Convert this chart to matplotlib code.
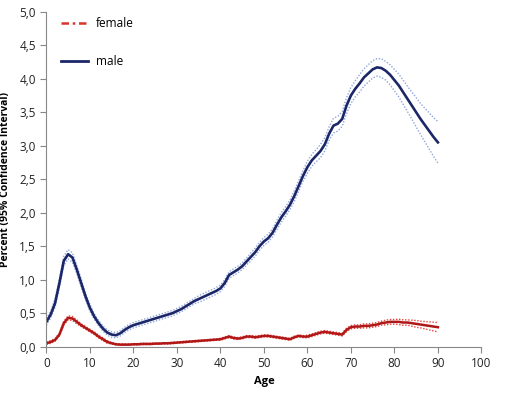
import numpy as np
import matplotlib
matplotlib.use('Agg')
import matplotlib.pyplot as plt
from matplotlib.ticker import FuncFormatter

# 年龄 0..90
ages = list(range(0, 91))

male = [0.37, 0.48, 0.65, 0.95, 1.28, 1.38, 1.33, 1.15, 0.95, 0.75,
        0.58, 0.45, 0.35, 0.27, 0.21, 0.18, 0.17, 0.20, 0.25, 0.29,
        0.32, 0.34, 0.36, 0.38, 0.40, 0.42, 0.44, 0.46, 0.48, 0.50,
        0.53, 0.56, 0.60, 0.64, 0.68, 0.71, 0.74, 0.77, 0.80, 0.83,
        0.87, 0.95, 1.07, 1.11, 1.15, 1.20, 1.27, 1.34, 1.41, 1.50,
        1.57, 1.62, 1.70, 1.82, 1.93, 2.02, 2.12, 2.25, 2.40, 2.55,
        2.68, 2.78, 2.85, 2.92, 3.02, 3.18, 3.30, 3.33, 3.40, 3.60,
        3.75, 3.85, 3.93, 4.02, 4.08, 4.14, 4.17, 4.16, 4.12, 4.06,
        3.98, 3.90, 3.80, 3.70, 3.60, 3.50, 3.40, 3.31, 3.22, 3.13,
        3.05]

male_ci = [0.05, 0.05, 0.06, 0.06, 0.07, 0.07, 0.07, 0.06, 0.06, 0.05,
           0.05, 0.04, 0.04, 0.04, 0.04, 0.04, 0.04, 0.04, 0.04, 0.04,
           0.04, 0.04, 0.04, 0.04, 0.04, 0.04, 0.04, 0.04, 0.04, 0.04,
           0.04, 0.04, 0.04, 0.04, 0.04, 0.05, 0.05, 0.05, 0.05, 0.05,
           0.05, 0.05, 0.05, 0.05, 0.05, 0.05, 0.05, 0.06, 0.06, 0.06,
           0.06, 0.06, 0.06, 0.07, 0.07, 0.07, 0.07, 0.08, 0.08, 0.08,
           0.09, 0.09, 0.09, 0.10, 0.10, 0.10, 0.11, 0.11, 0.11, 0.12,
           0.12, 0.12, 0.13, 0.13, 0.13, 0.13, 0.13, 0.14, 0.14, 0.15,
           0.16, 0.17, 0.18, 0.19, 0.20, 0.22, 0.23, 0.25, 0.27, 0.29,
           0.31]

female = [0.05, 0.07, 0.10, 0.18, 0.35, 0.43, 0.42, 0.37, 0.32, 0.28,
          0.24, 0.20, 0.15, 0.11, 0.07, 0.05, 0.035, 0.03, 0.03, 0.03,
          0.035, 0.035, 0.04, 0.04, 0.04, 0.045, 0.045, 0.05, 0.05, 0.055,
          0.06, 0.065, 0.07, 0.075, 0.08, 0.085, 0.09, 0.095, 0.10, 0.105,
          0.11, 0.13, 0.15, 0.13, 0.12, 0.13, 0.15, 0.15, 0.14, 0.15,
          0.16, 0.16, 0.15, 0.14, 0.13, 0.12, 0.11, 0.14, 0.16, 0.15,
          0.15, 0.17, 0.19, 0.21, 0.22, 0.21, 0.20, 0.19, 0.18, 0.25,
          0.29, 0.30, 0.30, 0.31, 0.31, 0.32, 0.33, 0.35, 0.36, 0.37,
          0.37, 0.37, 0.36, 0.36, 0.35, 0.34, 0.33, 0.32, 0.31, 0.30,
          0.29]

female_ci = [0.02, 0.02, 0.02, 0.02, 0.03, 0.03, 0.03, 0.03, 0.02, 0.02,
             0.02, 0.02, 0.02, 0.02, 0.02, 0.01, 0.01, 0.01, 0.01, 0.01,
             0.01, 0.01, 0.01, 0.01, 0.01, 0.01, 0.01, 0.01, 0.01, 0.01,
             0.01, 0.01, 0.01, 0.01, 0.01, 0.01, 0.01, 0.01, 0.01, 0.01,
             0.015, 0.015, 0.015, 0.015, 0.015, 0.015, 0.015, 0.015, 0.015, 0.015,
             0.015, 0.015, 0.015, 0.015, 0.015, 0.015, 0.015, 0.015, 0.015, 0.015,
             0.02, 0.02, 0.02, 0.02, 0.02, 0.02, 0.02, 0.02, 0.02, 0.025,
             0.025, 0.025, 0.025, 0.03, 0.03, 0.03, 0.03, 0.03, 0.035, 0.035,
             0.035, 0.04, 0.04, 0.04, 0.045, 0.05, 0.05, 0.055, 0.06, 0.065,
             0.07]

plt.rcParams['font.family'] = ['Open Sans', 'DejaVu Sans']

m = np.array(male)
mc = np.array(male_ci)
f = np.array(female)
fc = np.array(female_ci)

fig = plt.figure(figsize=(5.21, 3.93), dpi=100)
ax = fig.add_axes([0.089, 0.118, 0.835, 0.852])

# 女性: 置信区间 + 中心线
ax.plot(ages, f + fc, color='#e8403a', lw=1.0, ls=(0, (1, 1.2)))
ax.plot(ages, f - fc, color='#e8403a', lw=1.0, ls=(0, (1, 1.2)))
ax.plot(ages, f, color='#b01818', lw=1.8)

# 男性: 置信区间 + 中心线
ax.plot(ages, m + mc, color='#8fa6dc', lw=1.0, ls=(0, (1, 1.2)))
ax.plot(ages, m - mc, color='#8fa6dc', lw=1.0, ls=(0, (1, 1.2)))
ax.plot(ages, m, color='#1b2768', lw=1.9)

# 图例
h1, = ax.plot([], [], color='#d9332b', lw=1.8, ls=(0, (3, 1.5, 1, 1.5)))
h2, = ax.plot([], [], color='#1b2768', lw=2.0)
leg = ax.legend([h1, h2], ['female', 'male'], loc='upper left', bbox_to_anchor=(0.01, 1.015),
                frameon=False, fontsize=8.5, labelspacing=2.1, handlelength=2.3, handletextpad=0.6)

ax.set_xlim(0, 100)
ax.set_ylim(0, 5.0)
ax.set_xticks(np.arange(0, 101, 10))
ax.set_yticks(np.arange(0, 5.01, 0.5))
ax.yaxis.set_major_formatter(FuncFormatter(lambda v, p: f'{v:.1f}'.replace('.', ',')))

for s in ['top', 'right']:
    ax.spines[s].set_visible(False)
for s in ['left', 'bottom']:
    ax.spines[s].set_color('#888888')
    ax.spines[s].set_linewidth(0.8)
ax.tick_params(colors='#888888', labelcolor='#222222', labelsize=8.5, length=4, width=0.8)

ax.set_xlabel('Age', fontsize=8, fontweight='bold', labelpad=4)
ax.set_ylabel('Percent (95% Confidence Interval)', fontsize=7.5, fontweight='bold', labelpad=6)

fig.savefig('out.png', dpi=100)
